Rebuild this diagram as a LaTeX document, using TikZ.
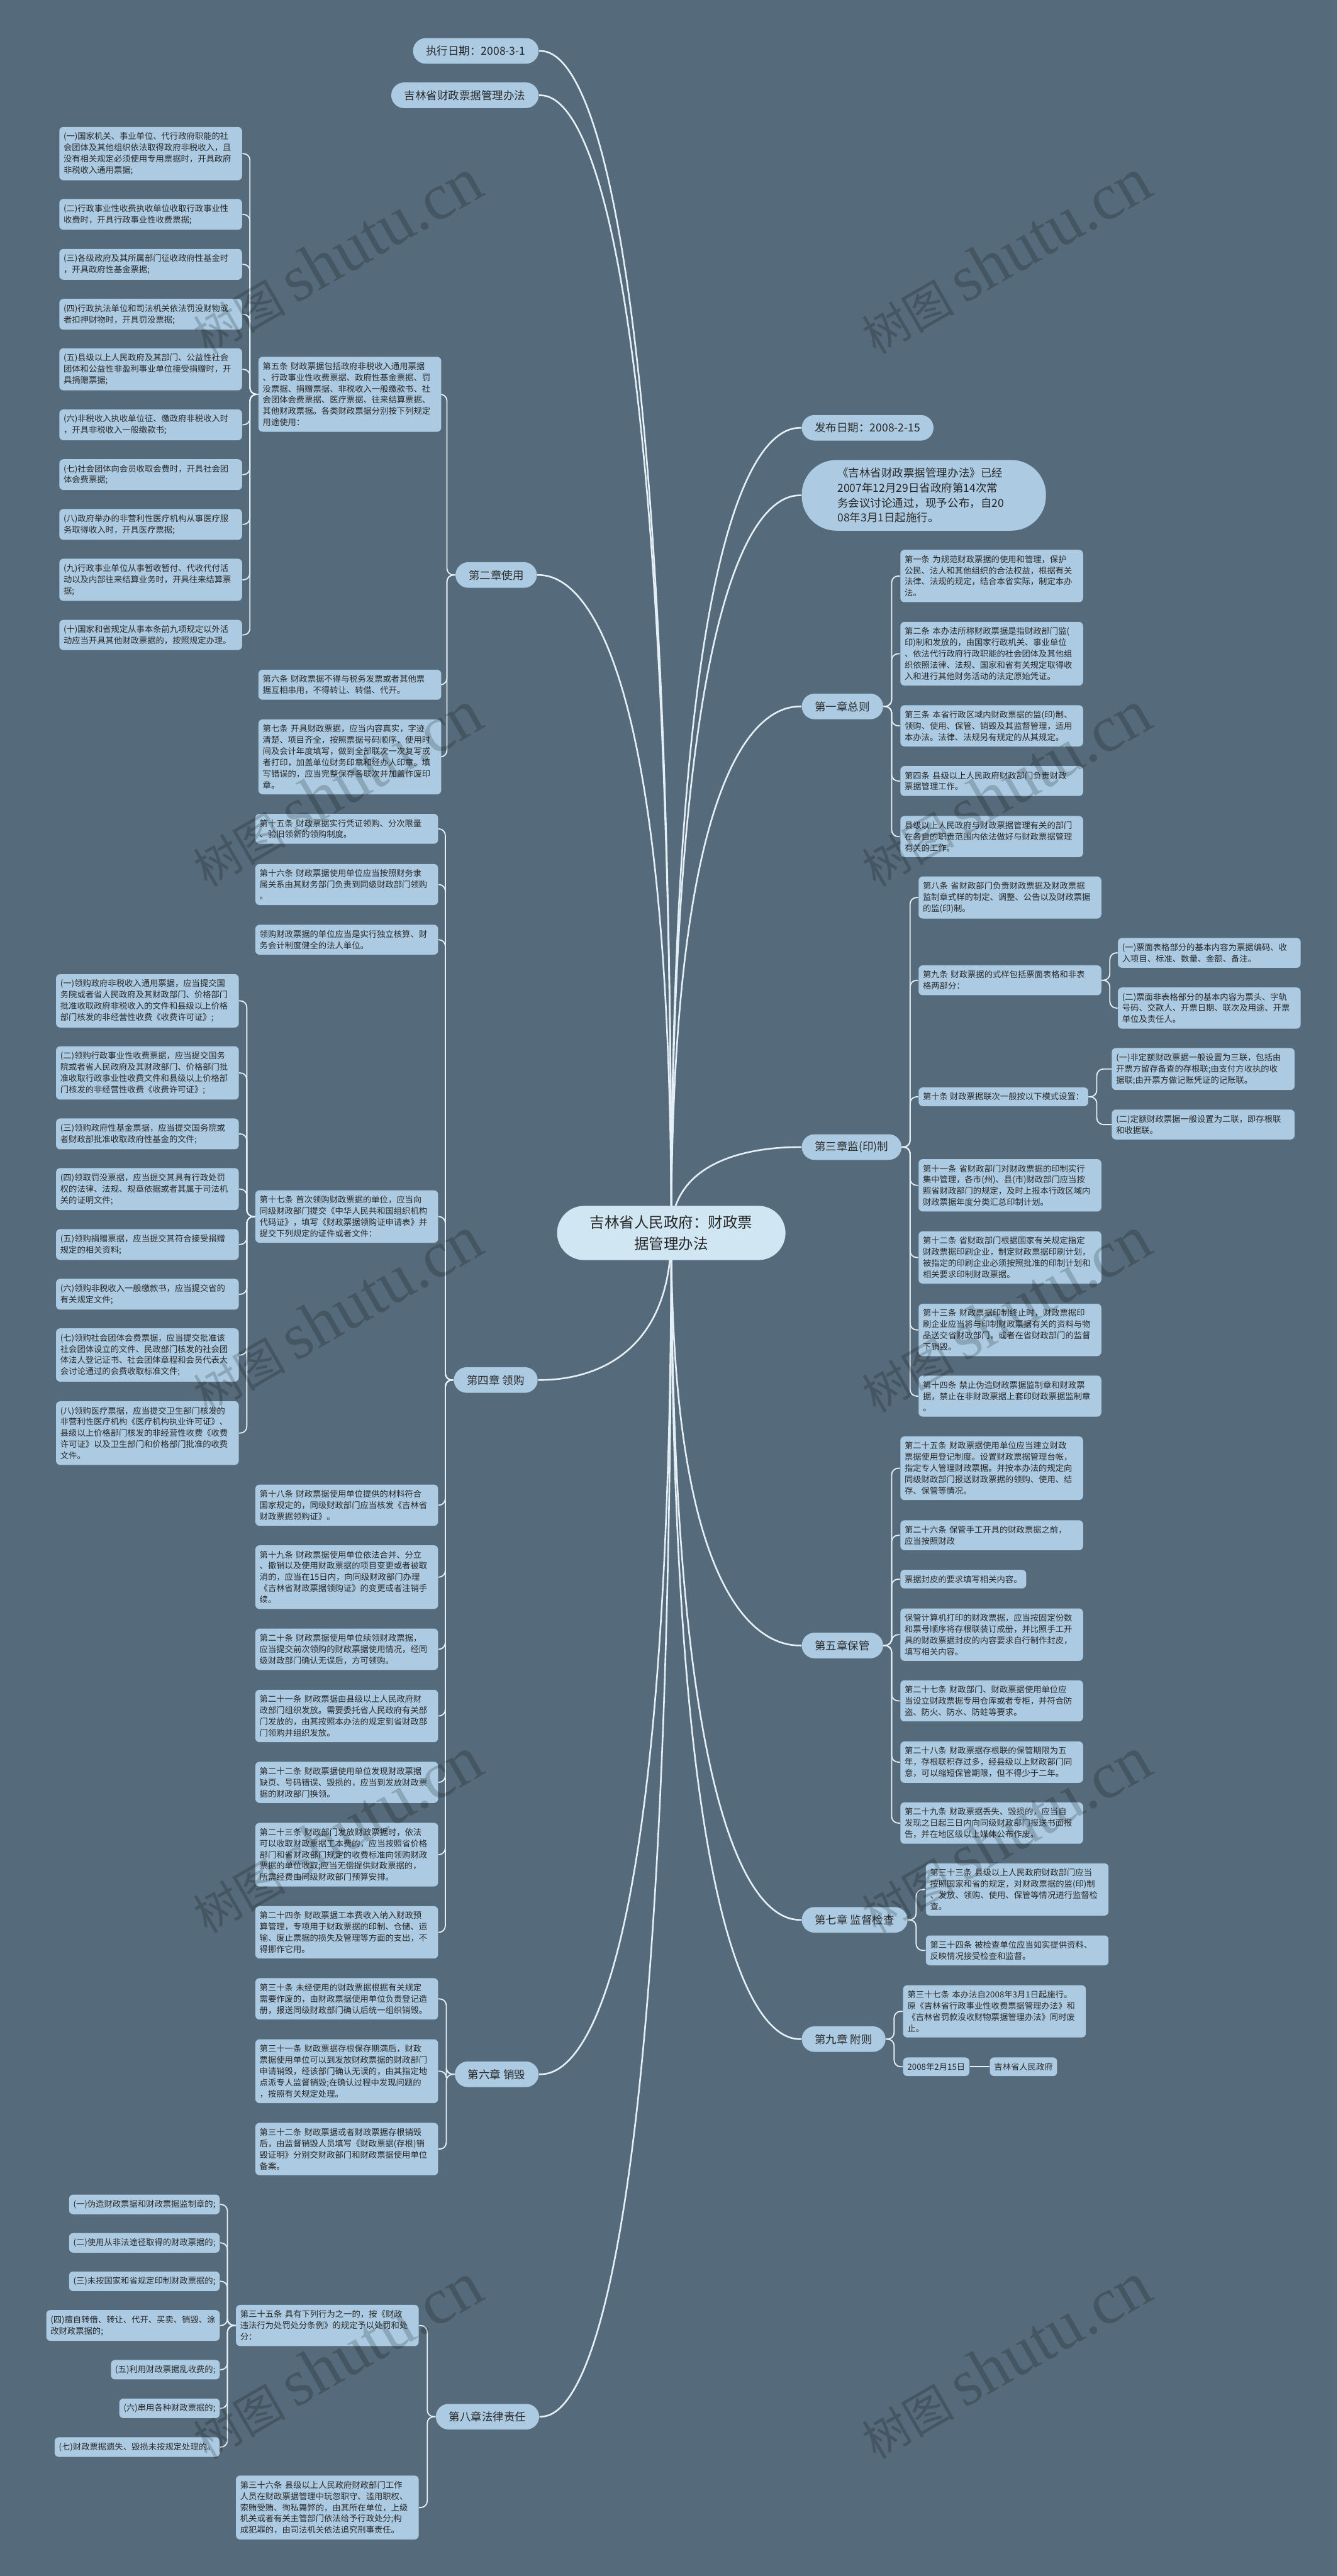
\documentclass[tikz,border=0pt]{standalone}
\usepackage{fontspec}
\setmainfont{Noto Sans CJK SC}
\newfontfamily\wmlatin{Liberation Serif}
\usepackage{tikz}
\usetikzlibrary{calc}

\definecolor{slate}{RGB}{85,106,122}
\definecolor{nodeblue}{RGB}{172,203,226}
\definecolor{rootblue}{RGB}{208,230,243}
\definecolor{wire}{RGB}{228,239,246}
\definecolor{ink}{RGB}{40,40,40}

\pgfdeclarelayer{bg}
\pgfdeclarelayer{wires}
\pgfsetlayers{bg,wires,main}

\begin{document}
\begin{tikzpicture}[x=1pt,y=-1pt,
		card/.style={fill=nodeblue,rounded corners=2.5pt,inner xsep=2.6pt,inner ysep=3.3pt,
			align=left,text=ink,font=\fontsize{5.1}{6.85}\selectfont},
		leaf/.style={card,text width=106pt},
		chap/.style={fill=nodeblue,rounded corners=7.8pt,minimum height=15.6pt,
			inner xsep=8pt,inner ysep=0pt,text=ink,font=\fontsize{6.7}{8}\selectfont},
		bubble/.style={fill=nodeblue,rounded corners=21pt,text width=105pt,align=left,
			inner xsep=21.8pt,inner ysep=4.5pt,minimum height=43pt,text=ink,
			font=\fontsize{6.7}{9.1}\selectfont},
		core/.style={fill=rootblue,rounded corners=16.5pt,minimum width=139pt,
			minimum height=33pt,align=center,text=ink,font=\fontsize{9}{12.7}\selectfont},
		branch/.style={draw=wire,line width=1pt},
		twig/.style={draw=wire,line width=.7pt,rounded corners=4pt},
		wm/.style={rotate=30,text=black,text opacity=.18,inner sep=0pt}]
		% background
		\begin{pgfonlayer}{bg}
		\fill[slate] (0,0) rectangle (814,1568);
		\end{pgfonlayer}
		% root
		\node[core] (root) at (408.5,750.5) {吉林省人民政府：财政票\\据管理办法};
		% top
		\node[chap,anchor=east] (exec) at (328,31) {执行日期：2008-3-1};
		\node[chap,anchor=east] (title) at (328,58) {吉林省财政票据管理办法};
		\node[chap,anchor=west] (pubdate) at (487.7,260.4) {发布日期：2008-2-15};
		\node[bubble,anchor=west] (notice) at (487.7,301.5) {《吉林省财政票据管理办法》已经\\2007年12月29日省政府第14次常\\务会议讨论通过，现予公布，自20\\08年3月1日起施行。};
		% chapter 1
		\node[chap,anchor=west] (c1) at (487.7,430) {第一章总则};
		\node[leaf,anchor=west] (art1) at (547.7,350.6) {第一条~为规范财政票据的使用和管理，保护\\公民、法人和其他组织的合法权益，根据有关\\法律、法规的规定，结合本省实际，制定本办\\法。};
		\node[leaf,anchor=west] (art2) at (547.7,397.9) {第二条~本办法所称财政票据是指财政部门监(\\印)制和发放的，由国家行政机关、事业单位\\、依法代行政府行政职能的社会团体及其他组\\织依照法律、法规、国家和省有关规定取得收\\入和进行其他财务活动的法定原始凭证。};
		\node[leaf,anchor=west] (art3) at (547.7,441.8) {第三条~本省行政区域内财政票据的监(印)制、\\领购、使用、保管、销毁及其监督管理，适用\\本办法。法律、法规另有规定的从其规定。};
		\node[leaf,anchor=west] (art4) at (547.7,475.4) {第四条~县级以上人民政府财政部门负责财政\\票据管理工作。};
		\node[leaf,anchor=west] (depts) at (547.7,509.2) {县级以上人民政府与财政票据管理有关的部门\\在各自的职责范围内依法做好与财政票据管理\\有关的工作。};
		% chapter 2
		\node[chap,anchor=west] (c2) at (277,350) {第二章使用};
		\node[leaf,anchor=east] (art5) at (268.7,240) {第五条~财政票据包括政府非税收入通用票据\\、行政事业性收费票据、政府性基金票据、罚\\没票据、捐赠票据、非税收入一般缴款书、社\\会团体会费票据、医疗票据、往来结算票据、\\其他财政票据。各类财政票据分别按下列规定\\用途使用：};
		\node[leaf,anchor=east] (use1) at (147.5,93.5) {(一)国家机关、事业单位、代行政府职能的社\\会团体及其他组织依法取得政府非税收入，且\\没有相关规定必须使用专用票据时，开具政府\\非税收入通用票据;};
		\node[leaf,anchor=east] (use2) at (147.5,130.5) {(二)行政事业性收费执收单位收取行政事业性\\收费时，开具行政事业性收费票据;};
		\node[leaf,anchor=east] (use3) at (147.5,160.9) {(三)各级政府及其所属部门征收政府性基金时\\，开具政府性基金票据;};
		\node[leaf,anchor=east] (use4) at (147.5,191.3) {(四)行政执法单位和司法机关依法罚没财物或\\者扣押财物时，开具罚没票据;};
		\node[leaf,anchor=east] (use5) at (147.5,224.8) {(五)县级以上人民政府及其部门、公益性社会\\团体和公益性非盈利事业单位接受捐赠时，开\\具捐赠票据;};
		\node[leaf,anchor=east] (use6) at (147.5,258.6) {(六)非税收入执收单位征、缴政府非税收入时\\，开具非税收入一般缴款书;};
		\node[leaf,anchor=east] (use7) at (147.5,288.9) {(七)社会团体向会员收取会费时，开具社会团\\体会费票据;};
		\node[leaf,anchor=east] (use8) at (147.5,319.2) {(八)政府举办的非营利性医疗机构从事医疗服\\务取得收入时，开具医疗票据;};
		\node[leaf,anchor=east] (use9) at (147.5,352.9) {(九)行政事业单位从事暂收暂付、代收代付活\\动以及内部往来结算业务时，开具往来结算票\\据;};
		\node[leaf,anchor=east] (use10) at (147.5,386.5) {(十)国家和省规定从事本条前九项规定以外活\\动应当开具其他财政票据的，按照规定办理。};
		\node[leaf,anchor=east] (art6) at (268.7,416.8) {第六条~财政票据不得与税务发票或者其他票\\据互相串用，不得转让、转借、代开。};
		\node[leaf,anchor=east] (art7) at (268.7,460.7) {第七条~开具财政票据，应当内容真实，字迹\\清楚、项目齐全，按照票据号码顺序、使用时\\间及会计年度填写，做到全部联次一次复写或\\者打印，加盖单位财务印章和经办人印章。填\\写错误的，应当完整保存各联次并加盖作废印\\章。};
		% chapter 3
		\node[chap,anchor=west] (c3) at (487.7,698.2) {第三章监(印)制};
		\node[leaf,anchor=west] (art8) at (558.8,546.3) {第八条~省财政部门负责财政票据及财政票据\\监制章式样的制定、调整、公告以及财政票据\\的监(印)制。};
		\node[leaf,anchor=west] (art9) at (558.8,596.7) {第九条~财政票据的式样包括票面表格和非表\\格两部分：};
		\node[leaf,anchor=west] (form1) at (680.1,580) {(一)票面表格部分的基本内容为票据编码、收\\入项目、标准、数量、金额、备注。};
		\node[leaf,anchor=west] (form2) at (680.1,613.6) {(二)票面非表格部分的基本内容为票头、字轨\\号码、交款人、开票日期、联次及用途、开票\\单位及责任人。};
		\node[card,anchor=west] (art10) at (558.8,667.6) {第十条~财政票据联次一般按以下模式设置：};
		\node[leaf,anchor=west] (copy1) at (676.4,650.7) {(一)非定额财政票据一般设置为三联，包括由\\开票方留存备查的存根联;由支付方收执的收\\据联;由开票方做记账凭证的记账联。};
		\node[leaf,anchor=west] (copy2) at (676.4,684.5) {(二)定额财政票据一般设置为二联，即存根联\\和收据联。};
		\node[leaf,anchor=west] (art11) at (558.8,721.5) {第十一条~省财政部门对财政票据的印制实行\\集中管理，各市(州)、县(市)财政部门应当按\\照省财政部门的规定，及时上报本行政区域内\\财政票据年度分类汇总印制计划。};
		\node[leaf,anchor=west] (art12) at (558.8,765.4) {第十二条~省财政部门根据国家有关规定指定\\财政票据印刷企业，制定财政票据印刷计划，\\被指定的印刷企业必须按照批准的印制计划和\\相关要求印制财政票据。};
		\node[leaf,anchor=west] (art13) at (558.8,809.5) {第十三条~财政票据印制终止时，财政票据印\\刷企业应当将与印制财政票据有关的资料与物\\品送交省财政部门，或者在省财政部门的监督\\下销毁。};
		\node[leaf,anchor=west] (art14) at (558.8,849.8) {第十四条~禁止伪造财政票据监制章和财政票\\据，禁止在非财政票据上套印财政票据监制章\\。};
		% chapter 4
		\node[chap,anchor=west] (c4) at (276,840) {第四章 领购};
		\node[leaf,anchor=east] (art15) at (266.8,504.5) {第十五条~财政票据实行凭证领购、分次限量\\、验旧领新的领购制度。};
		\node[leaf,anchor=east] (art16) at (266.8,538.4) {第十六条~财政票据使用单位应当按照财务隶\\属关系由其财务部门负责到同级财政部门领购\\。};
		\node[leaf,anchor=east] (buyunit) at (266.8,572) {领购财政票据的单位应当是实行独立核算、财\\务会计制度健全的法人单位。};
		\node[leaf,anchor=east] (art17) at (266.8,740.5) {第十七条~首次领购财政票据的单位，应当向\\同级财政部门提交《中华人民共和国组织机构\\代码证》，填写《财政票据领购证申请表》并\\提交下列规定的证件或者文件：};
		\node[leaf,anchor=east] (buy1) at (145.5,609.2) {(一)领购政府非税收入通用票据，应当提交国\\务院或者省人民政府及其财政部门、价格部门\\批准收取政府非税收入的文件和县级以上价格\\部门核发的非经营性收费《收费许可证》;};
		\node[leaf,anchor=east] (buy2) at (145.5,653.1) {(二)领购行政事业性收费票据，应当提交国务\\院或者省人民政府及其财政部门、价格部门批\\准收取行政事业性收费文件和县级以上价格部\\门核发的非经营性收费《收费许可证》;};
		\node[leaf,anchor=east] (buy3) at (145.5,690.2) {(三)领购政府性基金票据，应当提交国务院或\\者财政部批准收取政府性基金的文件;};
		\node[leaf,anchor=east] (buy4) at (145.5,723.8) {(四)领取罚没票据，应当提交其具有行政处罚\\权的法律、法规、规章依据或者其属于司法机\\关的证明文件;};
		\node[leaf,anchor=east] (buy5) at (145.5,757.5) {(五)领购捐赠票据，应当提交其符合接受捐赠\\规定的相关资料;};
		\node[leaf,anchor=east] (buy6) at (145.5,787.8) {(六)领购非税收入一般缴款书，应当提交省的\\有关规定文件;};
		\node[leaf,anchor=east] (buy7) at (145.5,824.8) {(七)领购社会团体会费票据，应当提交批准该\\社会团体设立的文件、民政部门核发的社会团\\体法人登记证书、社会团体章程和会员代表大\\会讨论通过的会费收取标准文件;};
		\node[leaf,anchor=east] (buy8) at (145.5,872.3) {(八)领购医疗票据，应当提交卫生部门核发的\\非营利性医疗机构《医疗机构执业许可证》、\\县级以上价格部门核发的非经营性收费《收费\\许可证》以及卫生部门和价格部门批准的收费\\文件。};
		\node[leaf,anchor=east] (art18) at (266.8,916.2) {第十八条~财政票据使用单位提供的材料符合\\国家规定的，同级财政部门应当核发《吉林省\\财政票据领购证》。};
		\node[leaf,anchor=east] (art19) at (266.8,960) {第十九条~财政票据使用单位依法合并、分立\\、撤销以及使用财政票据的项目变更或者被取\\消的，应当在15日内，向同级财政部门办理\\《吉林省财政票据领购证》的变更或者注销手\\续。};
		\node[leaf,anchor=east] (art20) at (266.8,1003.9) {第二十条~财政票据使用单位续领财政票据，\\应当提交前次领购的财政票据使用情况，经同\\级财政部门确认无误后，方可领购。};
		\node[leaf,anchor=east] (art21) at (266.8,1044.5) {第二十一条~财政票据由县级以上人民政府财\\政部门组织发放。需要委托省人民政府有关部\\门发放的，由其按照本办法的规定到省财政部\\门领购并组织发放。};
		\node[leaf,anchor=east] (art22) at (266.8,1084.9) {第二十二条~财政票据使用单位发现财政票据\\缺页、号码错误、毁损的，应当到发放财政票\\据的财政部门换领。};
		\node[leaf,anchor=east] (art23) at (266.8,1128.9) {第二十三条~财政部门发放财政票据时，依法\\可以收取财政票据工本费的，应当按照省价格\\部门和省财政部门规定的收费标准向领购财政\\票据的单位收取;应当无偿提供财政票据的，\\所需经费由同级财政部门预算安排。};
		\node[leaf,anchor=east] (art24) at (266.8,1176.2) {第二十四条~财政票据工本费收入纳入财政预\\算管理，专项用于财政票据的印制、仓储、运\\输、废止票据的损失及管理等方面的支出，不\\得挪作它用。};
		% chapter 5
		\node[chap,anchor=west] (c5) at (487.7,1001.6) {第五章保管};
		\node[leaf,anchor=west] (art25) at (547.7,893.7) {第二十五条~财政票据使用单位应当建立财政\\票据使用登记制度。设置财政票据管理台帐，\\指定专人管理财政票据。并按本办法的规定向\\同级财政部门报送财政票据的领购、使用、结\\存、保管等情况。};
		\node[leaf,anchor=west] (art26) at (547.7,934.5) {第二十六条~保管手工开具的财政票据之前，\\应当按照财政};
		\node[card,anchor=west] (cover) at (547.7,961.2) {票据封皮的要求填写相关内容。};
		\node[leaf,anchor=west] (print) at (547.7,995) {保管计算机打印的财政票据，应当按固定份数\\和票号顺序将存根联装订成册，并比照手工开\\具的财政票据封皮的内容要求自行制作封皮，\\填写相关内容。};
		\node[leaf,anchor=west] (art27) at (547.7,1035.3) {第二十七条~财政部门、财政票据使用单位应\\当设立财政票据专用仓库或者专柜，并符合防\\盗、防火、防水、防蛀等要求。};
		\node[leaf,anchor=west] (art28) at (547.7,1072.6) {第二十八条~财政票据存根联的保管期限为五\\年，存根联积存过多，经县级以上财政部门同\\意，可以缩短保管期限，但不得少于二年。};
		\node[leaf,anchor=west] (art29) at (547.7,1109.7) {第二十九条~财政票据丢失、毁损的，应当自\\发现之日起三日内向同级财政部门报送书面报\\告，并在地区级以上媒体公布作废。};
		% chapter 6
		\node[chap,anchor=west] (c6) at (276.6,1262.6) {第六章 销毁};
		\node[leaf,anchor=east] (art30) at (266.8,1216.7) {第三十条~未经使用的财政票据根据有关规定\\需要作废的，由财政票据使用单位负责登记造\\册，报送同级财政部门确认后统一组织销毁。};
		\node[leaf,anchor=east] (art31) at (266.8,1260.7) {第三十一条~财政票据存根保存期满后，财政\\票据使用单位可以到发放财政票据的财政部门\\申请销毁，经该部门确认无误的，由其指定地\\点派专人监督销毁;在确认过程中发现问题的\\，按照有关规定处理。};
		\node[leaf,anchor=east] (art32) at (266.8,1308.1) {第三十二条~财政票据或者财政票据存根销毁\\后，由监督销毁人员填写《财政票据(存根)销\\毁证明》分别交财政部门和财政票据使用单位\\备案。};
		% chapter 7
		\node[chap,anchor=west] (c7) at (487.7,1168.6) {第七章 监督检查};
		\node[leaf,anchor=west] (art33) at (563.2,1150.1) {第三十三条~县级以上人民政府财政部门应当\\按照国家和省的规定，对财政票据的监(印)制\\、发放、领购、使用、保管等情况进行监督检\\查。};
		\node[leaf,anchor=west] (art34) at (563.2,1187.2) {第三十四条~被检查单位应当如实提供资料、\\反映情况接受检查和监督。};
		% chapter 8
		\node[chap,anchor=west] (c8) at (265,1471) {第八章法律责任};
		\node[leaf,anchor=east] (art35) at (255,1415.5) {第三十五条~具有下列行为之一的，按《财政\\违法行为处罚处分条例》的规定予以处罚和处\\分：};
		\node[card,anchor=east] (pen1) at (133.9,1341.8) {(一)伪造财政票据和财政票据监制章的;};
		\node[card,anchor=east] (pen2) at (133.9,1365.2) {(二)使用从非法途径取得的财政票据的;};
		\node[card,anchor=east] (pen3) at (133.9,1388.6) {(三)未按国家和省规定印制财政票据的;};
		\node[card,anchor=east] (pen4) at (133.9,1415.5) {(四)擅自转借、转让、代开、买卖、销毁、涂\\改财政票据的;};
		\node[card,anchor=east] (pen5) at (133.9,1442.4) {(五)利用财政票据乱收费的;};
		\node[card,anchor=east] (pen6) at (133.9,1465.9) {(六)串用各种财政票据的;};
		\node[card,anchor=east] (pen7) at (133.9,1489.5) {(七)财政票据遗失、毁损未按规定处理的。};
		\node[leaf,anchor=east] (art36) at (255,1526.3) {第三十六条~县级以上人民政府财政部门工作\\人员在财政票据管理中玩忽职守、滥用职权、\\索贿受贿、徇私舞弊的，由其所在单位，上级\\机关或者有关主管部门依法给予行政处分;构\\成犯罪的，由司法机关依法追究刑事责任。};
		% chapter 9
		\node[chap,anchor=west] (c9) at (487.7,1241.2) {第九章 附则};
		\node[leaf,anchor=west] (art37) at (549.4,1224.3) {第三十七条~本办法自2008年3月1日起施行。\\原《吉林省行政事业性收费票据管理办法》和\\《吉林省罚款没收财物票据管理办法》同时废\\止。};
		\node[card,anchor=west] (date) at (549.4,1258) {2008年2月15日};
		\node[card,anchor=west] (gov) at (602.2,1258) {吉林省人民政府};
		% connectors
		\begin{pgfonlayer}{wires}
		\foreach \nd in {exec,title,c2,c4,c6,c8}
			\draw[branch] (root.center) .. controls (root.center |- \nd.east) and ([xshift=12pt]\nd.east) .. (\nd.east);
		\foreach \nd in {pubdate,notice,c1,c3,c5,c7,c9}
			\draw[branch] (root.center) .. controls (root.center |- \nd.west) and ([xshift=-12pt]\nd.west) .. (\nd.west);
		\foreach \up/\kid in {c1/art1,c1/art2,c1/art3,c1/art4,c1/depts,
				c3/art8,c3/art9,c3/art10,c3/art11,c3/art12,c3/art13,c3/art14,
				art9/form1,art9/form2,art10/copy1,art10/copy2,
				c5/art25,c5/art26,c5/cover,c5/print,c5/art27,c5/art28,c5/art29,
				c7/art33,c7/art34,c9/art37,c9/date}
			\draw[twig] (\up.east) -- ++(5,0) |- (\kid.west);
		\foreach \up/\kid in {c2/art5,c2/art6,c2/art7,
				art5/use1,art5/use2,art5/use3,art5/use4,art5/use5,
				art5/use6,art5/use7,art5/use8,art5/use9,art5/use10,
				c4/art15,c4/art16,c4/buyunit,c4/art17,c4/art18,c4/art19,
				c4/art20,c4/art21,c4/art22,c4/art23,c4/art24,
				art17/buy1,art17/buy2,art17/buy3,art17/buy4,
				art17/buy5,art17/buy6,art17/buy7,art17/buy8,
				c6/art30,c6/art31,c6/art32,c8/art35,c8/art36,
				art35/pen1,art35/pen2,art35/pen3,art35/pen4,
				art35/pen5,art35/pen6,art35/pen7}
			\draw[twig] (\up.west) -- ++(-5,0) |- (\kid.east);
		\draw[twig] (date) -- (gov);
		\end{pgfonlayer}
		% watermark
		\foreach \wx in {205,612}
			\foreach \wy in {156,480,800,1117,1437}
				\node[wm] at (\wx,\wy) {\fontsize{28}{28}\selectfont 树图~{\wmlatin\fontsize{40}{40}\selectfont shutu.cn}};
	\end{tikzpicture}
\end{document}
